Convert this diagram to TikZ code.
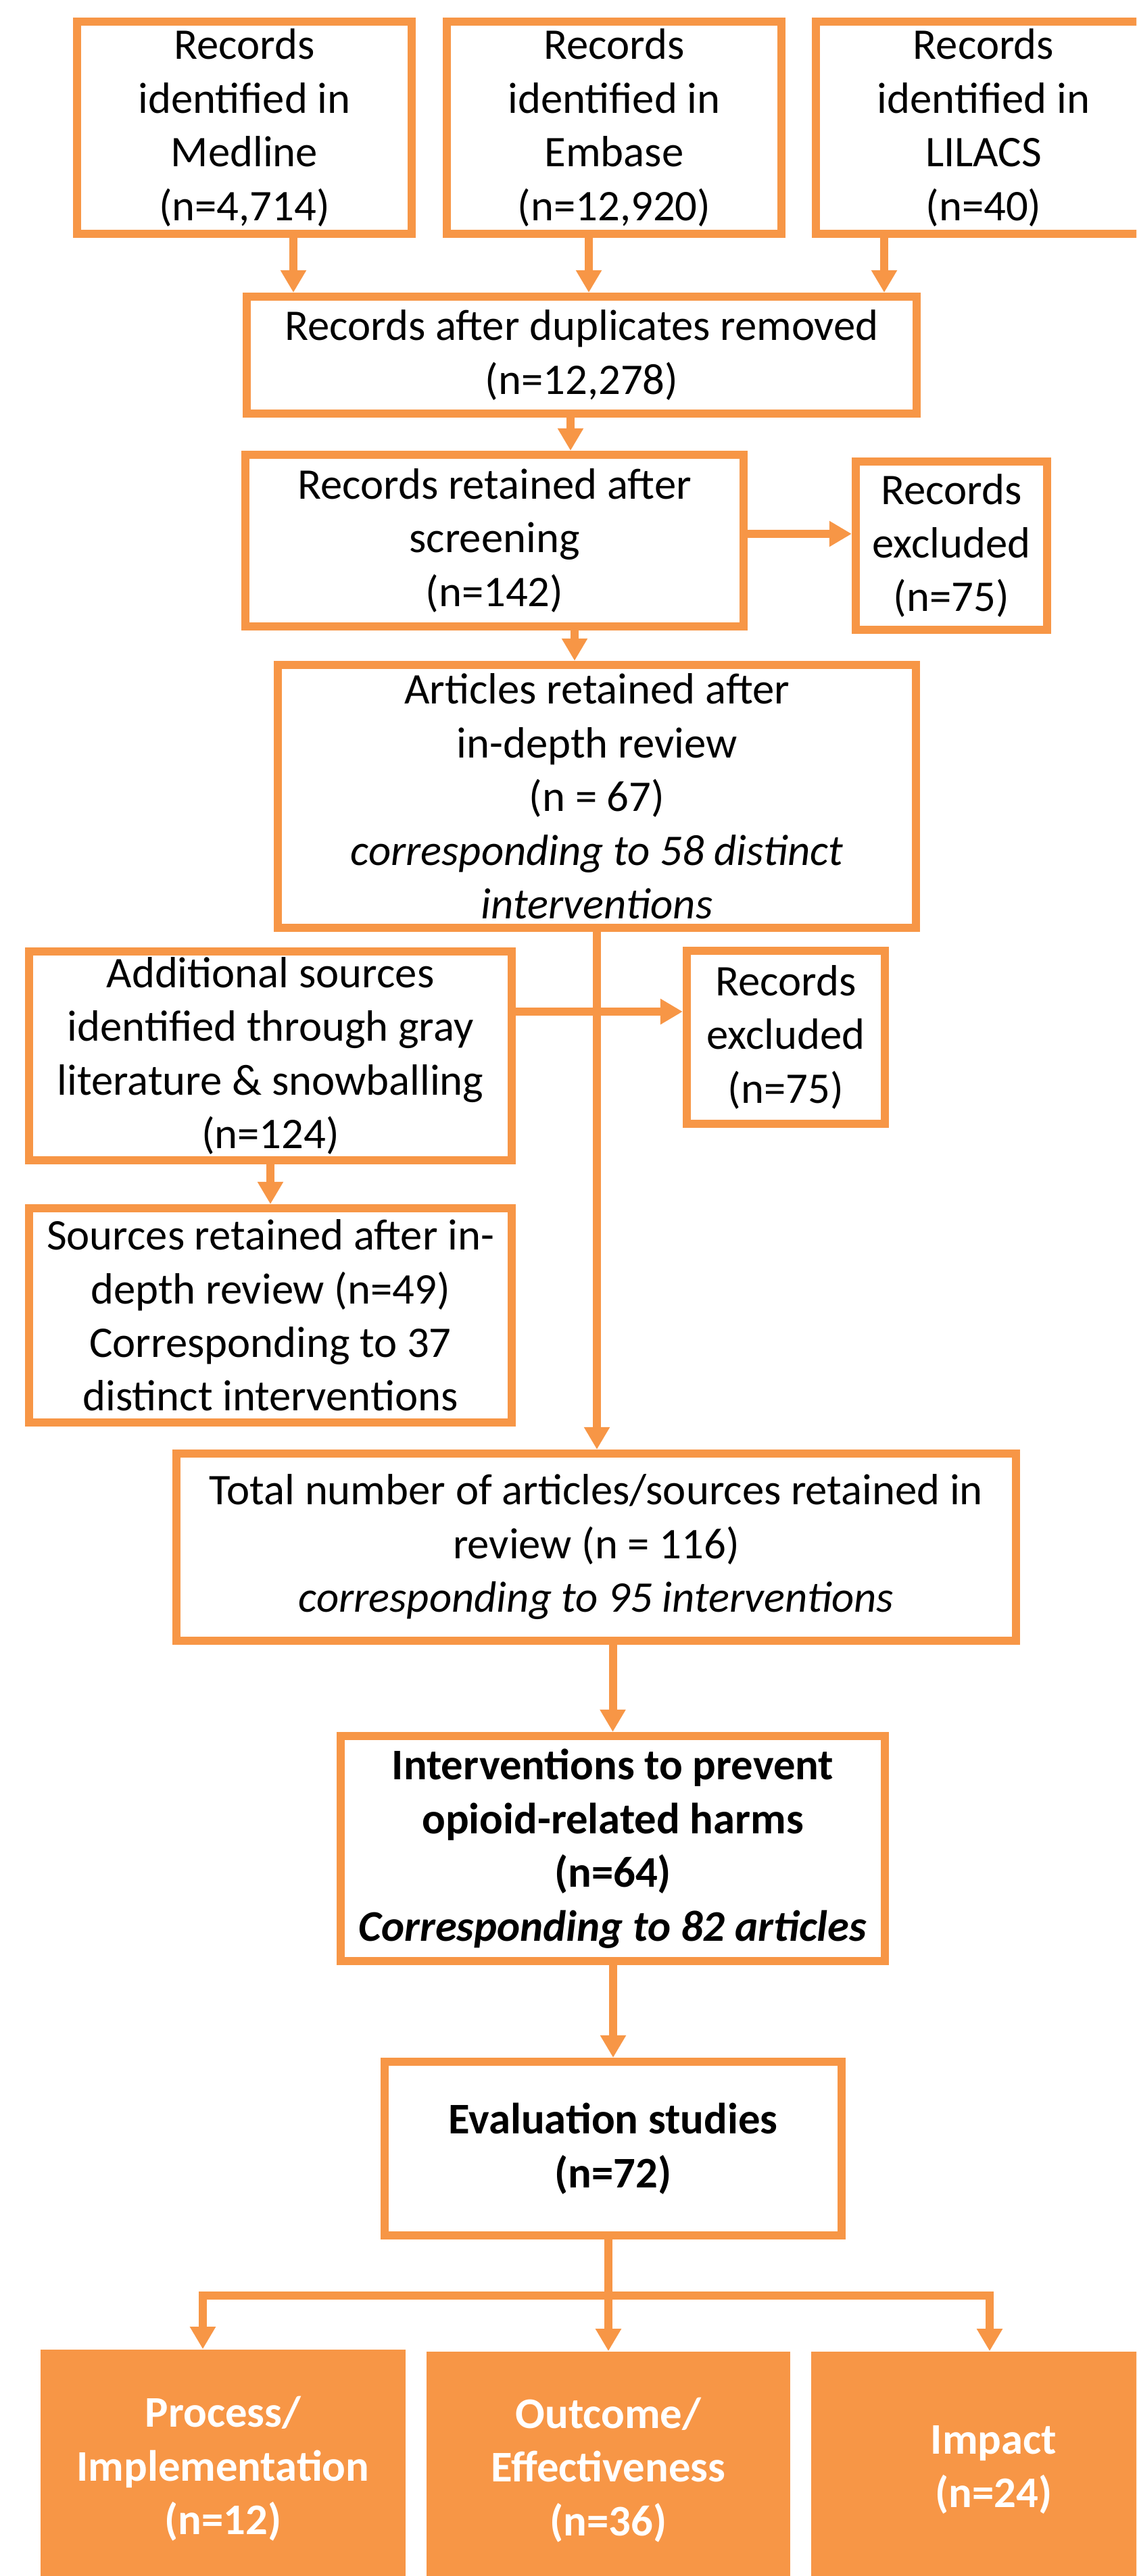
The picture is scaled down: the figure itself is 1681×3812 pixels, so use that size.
\documentclass[tikz,border=0pt]{standalone}
\usepackage{fontspec}
\setmainfont{Carlito}
\usetikzlibrary{arrows.meta}
\definecolor{prismaorange}{RGB}{247,150,70}
\newcommand{\flowfont}{\fontsize{18.4}{22.6}\selectfont}

\begin{document}
\begin{tikzpicture}[x=0.01cm, y=-0.01cm,
	box/.style={draw=prismaorange, line width=0.12cm, fill=white, align=center, inner sep=0pt, font=\flowfont},
	result/.style={fill=prismaorange, text=white, align=center, inner sep=0pt, font=\flowfont\bfseries},
	link/.style={draw=prismaorange, line width=0.12cm},
	arr/.style={link, -{Triangle[length=0.33cm, width=0.36cm]}}]
	\useasboundingbox (0,0) rectangle (1681,3812);
	\clip (0,0) rectangle (1681,3812);
	\node[box, minimum width=9.91cm, minimum height=1.73cm] (dup) at (860.5,525.5) {Records after duplicates removed\\(n=12,278)};
	\foreach \nm/\db/\cnt/\cx/\ax in {med/Medline/{4,714}/361.5/434, emb/Embase/{12,920}/908.5/871, lil/LILACS/40/1455/1308} {
		\node[box, minimum width=4.95cm, minimum height=3.13cm] (\nm) at (\cx,189) {Records\\identified in\\\db\\(n=\cnt)};
		\draw[arr] (\nm.south -| \ax,0) -- (dup.north -| \ax,0);
	}
	\node[box, minimum width=7.37cm, minimum height=2.54cm] (scr) at (731.5,800) {Records retained after\\screening\\(n=142)};
	\node[box, minimum width=2.83cm, minimum height=2.49cm] (exc1) at (1407.5,807.5) {Records\\excluded\\(n=75)};
	\node[box, minimum width=9.44cm, minimum height=3.89cm] (art) at (883,1178.5) {Articles retained after\\in-depth review\\(n = 67)\\\textit{corresponding to 58 distinct}\\\textit{interventions}};
	\node[box, minimum width=7.14cm, minimum height=3.09cm] (add) at (400,1562.5) {Additional sources\\identified through gray\\literature \& snowballing\\(n=124)};
	\node[box, minimum width=2.93cm, minimum height=2.56cm] (exc2) at (1162.5,1535) {Records\\excluded\\(n=75)};
	\node[box, minimum width=7.14cm, minimum height=3.17cm] (src) at (400,1946.5) {Sources retained after in-\\depth review (n=49)\\Corresponding to 37\\distinct interventions};
	\node[box, minimum width=12.42cm, minimum height=2.77cm] (tot) at (882,2289.5) {Total number of articles/sources retained in\\review (n = 116)\\\textit{corresponding to 95 interventions}};
	\node[box, minimum width=8.05cm, minimum height=3.33cm, font=\flowfont\bfseries] (int) at (906.5,2735.5) {Interventions to prevent\\opioid-related harms\\(n=64)\\\textit{Corresponding to 82 articles}};
	\node[box, minimum width=6.76cm, minimum height=2.57cm, font=\flowfont\bfseries] (eva) at (907,3179.5) {Evaluation studies\\(n=72)};
	\node[result, minimum width=5.40cm, minimum height=3.53cm] (proc) at (330,3653.5) {Process/\\Implementation\\(n=12)};
	\node[result, minimum width=5.38cm, minimum height=3.50cm] (outc) at (900,3655) {Outcome/\\Effectiveness\\(n=36)};
	\node[result, minimum width=5.40cm, minimum height=3.50cm] (imp) at (1470,3655) {Impact\\(n=24)};
	% screening and review
	\draw[arr] (dup.south -| 844,0) -- (scr.north -| 844,0);
	\draw[arr] (scr.east |- 0,790) -- (exc1.west |- 0,790);
	\draw[arr] (scr.south -| 850,0) -- (art.north -| 850,0);
	\draw[arr] (art.south) -- (art.south |- tot.north);
	\draw[arr] (add.east |- 0,1497) -- (exc2.west |- 0,1497);
	\draw[arr] (add.south) -- (src.north);
	\draw[arr] (tot.south -| int.north) -- (int.north);
	\draw[arr] (int.south -| eva.north) -- (eva.north);
	% split into study types
	\coordinate (fork) at (900,3397);
	\draw[link] (eva.south -| fork) -- (fork);
	\draw[arr] (fork) -| (proc.north -| 300,0);
	\draw[arr] (fork) -- (outc.north -| fork);
	\draw[arr] (fork) -| (imp.north -| 1464,0);
\end{tikzpicture}
\end{document}
